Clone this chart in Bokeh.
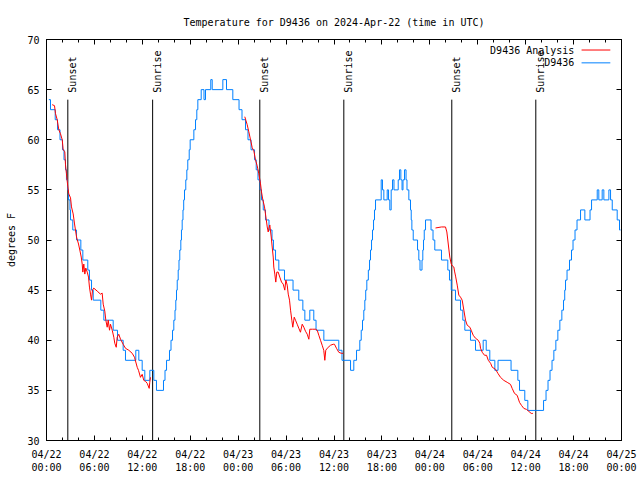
import math
from bokeh.plotting import figure
from bokeh.models import Range1d, LinearAxis, FixedTicker, ColumnDataSource, Title
from bokeh.embed import file_html
from bokeh.resources import INLINE
from bokeh.core.properties import value

# ---------------- data ----------------
TITLE = "Temperature for D9436 on 2024-Apr-22 (time in UTC)"
Y_LABEL = "degrees F"
OBS_NAME = "D9436"
ANA_NAME = "D9436 Analysis"

# hours since 2024-04-22 00:00 UTC
x_ticks = [0, 6, 12, 18, 24, 30, 36, 42, 48, 54, 60, 66, 72]
x_tick_labels = ["04/22\n00:00", "04/22\n06:00", "04/22\n12:00", "04/22\n18:00",
                 "04/23\n00:00", "04/23\n06:00", "04/23\n12:00", "04/23\n18:00",
                 "04/24\n00:00", "04/24\n06:00", "04/24\n12:00", "04/24\n18:00",
                 "04/25\n00:00"]
x_minor = list(range(0, 73, 2))
y_ticks = [30, 35, 40, 45, 50, 55, 60, 65, 70]

sun_hours = [2.67, 13.29, 26.71, 37.23, 50.75, 61.27]
sun_labels = ["Sunset", "Sunrise", "Sunset", "Sunrise", "Sunset", "Sunrise"]

# observations (value holds from the given hour until the next one)
obs_hours = [0.29, 0.50, 1.09, 1.38, 1.69, 2.00, 2.19, 2.38, 2.50, 2.63, 2.75, 2.94, 3.01,
             3.29, 3.76, 4.30, 4.55, 5.17, 5.38, 5.64, 5.85, 6.80, 7.18, 8.35, 8.89, 9.60,
             9.89, 11.18, 11.56, 11.98, 12.31, 12.94, 13.44, 13.77, 14.65, 14.84, 15.03,
             15.40, 15.59, 15.78, 15.94, 16.09, 16.19, 16.28, 16.37, 16.49, 16.59, 16.69,
             16.82, 16.90, 16.99, 17.09, 17.18, 17.28, 17.44, 17.57, 17.69, 17.87, 17.99,
             18.45, 18.66, 18.82, 18.95, 19.37, 19.72, 19.91, 20.57, 20.75, 22.08, 22.54,
             23.33, 24.11, 24.48, 24.92, 25.23, 25.61, 26.05, 26.26, 26.48, 26.74, 26.92,
             27.14, 27.42, 27.86, 28.24, 28.42, 28.68, 29.09, 29.80, 30.87, 31.59, 32.10,
             32.35, 32.97, 33.47, 33.75, 34.73, 36.60, 37.00, 38.07, 38.48, 38.82, 39.23,
             39.41, 39.57, 39.73, 39.86, 39.97, 40.11, 40.30, 40.45, 40.57, 40.70, 40.82,
             40.95, 41.07, 41.20, 41.91, 42.07, 42.24, 42.66, 42.83, 42.99, 43.16, 43.33,
             43.51, 44.04, 44.20, 44.37, 44.52, 44.64, 44.83, 45.02, 45.14, 45.37, 45.58,
             45.67, 45.75, 45.92, 46.46, 46.62, 46.77, 47.02, 47.12, 47.21, 47.30, 47.46,
             48.15, 48.40, 48.62, 49.46, 50.25, 50.46, 50.68, 51.21, 51.84, 52.13, 52.38,
             53.09, 53.72, 54.68, 55.06, 55.51, 56.14, 56.54, 58.17, 59.02, 59.23, 59.89,
             60.27, 62.24, 62.55, 62.80, 63.05, 63.30, 63.53, 63.78, 64.03, 64.28, 64.53,
             64.74, 64.89, 64.99, 65.18, 65.49, 65.74, 65.93, 66.18, 66.43, 66.87, 67.41,
             68.06, 68.25, 68.96, 69.16, 69.58, 69.79, 70.42, 70.63, 70.84, 71.46, 71.75,
             71.88]
obs_temp = [64, 63, 62, 61, 60, 59, 58, 57, 56, 55, 54, 53, 52,
            51, 50, 49, 48, 47, 46, 45, 44, 43, 42, 41, 40, 39,
            38, 39, 38, 37, 36, 37, 36, 35, 36, 37, 38,
            39, 40, 41, 42, 43, 44, 45, 46, 47, 48, 49,
            50, 51, 52, 53, 54, 55, 56, 57, 58, 59, 60,
            61, 62, 63, 64, 65, 64, 65, 66, 65, 66, 65,
            64, 63, 62, 61, 60, 59, 58, 57, 56, 55, 54,
            53, 52, 51, 50, 49, 48, 47, 46, 45, 44, 43,
            42, 43, 42, 41, 40, 39, 38, 37, 38, 39, 40,
            41, 42, 43, 44, 45, 46, 47, 48, 49, 50, 51,
            52, 53, 54, 56, 55, 54, 55, 54, 53, 55, 56,
            55, 56, 57, 56, 55, 56, 57, 56, 55, 54, 53,
            52, 51, 50, 49, 48, 47, 48, 49, 50, 51, 52,
            51, 50, 49, 48, 47, 46, 45, 44, 43, 42, 41,
            40, 39, 40, 39, 38, 37, 38, 37, 36, 35, 34,
            33, 34, 35, 36, 37, 38, 39, 40, 41, 42, 43,
            44, 45, 46, 47, 48, 49, 50, 51, 52, 53, 52,
            53, 54, 55, 54, 55, 54, 55, 54, 53, 52, 51,
            51]

# analysis, three night-time runs
ana1_hours = [0.71, 1.00, 1.13, 1.34, 1.54, 1.75, 1.97, 2.09, 2.29, 2.38, 2.50, 2.67, 2.79,
              3.01, 3.13, 3.34, 3.51, 3.76, 4.01, 4.17, 4.35, 4.47, 4.55, 4.67, 4.80, 4.92,
              5.10, 5.26, 5.38, 5.51, 5.64, 5.76, 5.92, 6.35, 6.76, 6.97, 7.10, 7.30, 7.43,
              7.60, 7.73, 7.89, 8.01, 8.23, 8.43, 8.55, 8.73, 8.85, 9.05, 9.27, 9.60, 9.89,
              10.31, 10.73, 11.02, 11.36, 11.52, 11.77, 11.98, 12.18, 12.40, 12.61, 12.86,
              12.93, 13.02]
ana1_temp = [63.5, 63.4, 62.6, 62.0, 61.0, 60.6, 60.0, 59.0, 58.8, 57.5, 56.6, 55.3, 54.6,
             54.2, 53.3, 52.6, 51.6, 50.3, 49.6, 49.0, 48.3, 47.6, 46.8, 47.6, 46.6, 47.2,
             46.8, 46.3, 45.3, 44.6, 44.0, 45.0, 45.2, 44.9, 44.6, 44.7, 43.6, 42.9, 42.0,
             41.3, 42.0, 41.0, 41.6, 41.0, 40.3, 39.7, 39.3, 40.3, 40.6, 40.1, 39.6, 39.2,
             39.0, 38.7, 38.3, 37.3, 37.0, 36.3, 36.6, 36.0, 35.9, 35.7, 35.2,
             35.8, 36.3]
ana2_hours = [24.83, 24.98, 25.13, 25.33, 25.55, 25.76, 25.96, 26.17, 26.38, 26.59, 26.80,
              26.92, 27.09, 27.30, 27.42, 27.64, 27.76, 27.96, 28.14, 28.26, 28.39, 28.46,
              28.59, 28.71, 28.84, 29.01, 29.21, 29.43, 29.64, 29.84, 29.97, 30.14, 30.27,
              30.43, 30.56, 30.72, 30.84, 31.02, 31.18, 31.39, 31.59, 31.80, 32.02, 32.22,
              32.43, 32.65, 32.85, 32.97, 33.31, 33.68, 33.90, 34.10, 34.31, 34.52, 34.72,
              34.85, 34.97, 35.15, 35.56, 35.90, 36.06, 36.31, 36.60, 36.90, 37.15]
ana2_temp = [62.3, 61.9, 61.5, 60.8, 60.0, 59.2, 58.9, 58.0, 57.4, 56.6, 55.6,
             54.8, 54.0, 53.3, 52.6, 51.3, 50.8, 51.5, 50.3, 49.3, 48.3, 47.3,
             46.6, 45.8, 46.8, 46.8, 46.3, 45.8, 45.6, 45.0, 46.0, 45.5, 44.6,
             44.0, 43.0, 42.0, 41.3, 42.3, 42.0, 41.6, 41.2, 40.8, 41.6, 41.3,
             40.9, 40.6, 40.1, 41.1, 41.1, 41.1, 41.0, 40.5, 40.0, 39.5, 39.0,
             38.0, 39.0, 39.2, 39.5, 39.6, 39.6, 39.2, 38.8, 38.7, 38.7]
ana3_hours = [48.71, 49.46, 49.96, 50.13, 50.25, 50.38, 50.50, 50.68, 50.84, 51.01, 51.09,
              51.22, 51.43, 51.63, 51.84, 52.05, 52.26, 52.47, 52.68, 53.01, 53.18, 53.43,
              53.72, 54.06, 54.26, 54.35, 54.56, 54.85, 55.10, 55.32, 55.61, 55.82, 56.23,
              56.52, 56.85, 57.26, 57.69, 58.10, 58.31, 58.60, 58.94, 59.23, 59.48, 59.77,
              60.11, 60.40, 60.70, 60.90]
ana3_temp = [51.2, 51.3, 51.3, 50.8, 50.0, 49.1, 48.3, 47.6, 47.4, 47.3, 46.9,
             46.4, 45.5, 44.5, 44.3, 44.0, 43.0, 42.0, 41.5, 41.3, 41.0, 40.5,
             40.2, 40.0, 39.7, 39.2, 38.8, 38.5, 38.5, 38.0, 37.7, 37.3, 37.1,
             36.7, 36.3, 36.0, 35.8, 35.6, 35.2, 34.7, 34.5, 33.8, 33.5, 33.2,
             33.1, 32.9, 32.7, 32.7]

# ---------------- styling ----------------
FONT = "DejaVu Sans Mono"
FS = "10px"
RED = "#ff0000"
BLUE = "#0080ff"

p = figure(width=640, height=480, x_range=Range1d(0, 72), y_range=Range1d(30, 70),
           output_backend="svg", toolbar_location=None, title=None,
           min_border_left=46, min_border_right=19, min_border_top=39, min_border_bottom=40,
           x_axis_location=None, y_axis_location=None)
p.background_fill_color = "white"
p.border_fill_color = "white"
p.outline_line_color = "black"
p.outline_line_width = 1
p.xgrid.visible = False
p.ygrid.visible = False

xt = FixedTicker(ticks=x_ticks, minor_ticks=x_minor)
yt = FixedTicker(ticks=y_ticks, minor_ticks=[])

def style(ax):
    ax.axis_line_color = "black"
    ax.major_tick_line_color = "black"
    ax.minor_tick_line_color = "black"
    ax.major_tick_in = 5
    ax.major_tick_out = 0
    ax.minor_tick_in = 3
    ax.minor_tick_out = 0
    ax.major_label_text_font = FONT
    ax.major_label_text_font_size = FS
    ax.major_label_text_color = "black"

xb = LinearAxis(ticker=xt)
style(xb)
xb.major_label_overrides = {t: lab for t, lab in zip(x_ticks, x_tick_labels)}
xb.major_label_standoff = 8
p.add_layout(xb, "below")
xa = LinearAxis(ticker=xt)
style(xa)
xa.major_label_overrides = {t: "" for t in x_ticks}
xa.major_label_standoff = 0
p.add_layout(xa, "above")

yl = LinearAxis(ticker=yt)
style(yl)
yl.major_label_standoff = 7
yl.axis_label = Y_LABEL
yl.axis_label_text_font = FONT
yl.axis_label_text_font_size = FS
yl.axis_label_text_font_style = "normal"
yl.axis_label_text_color = "black"
yl.axis_label_standoff = 7
p.add_layout(yl, "left")
yr = LinearAxis(ticker=yt)
style(yr)
yr.major_label_overrides = {t: "" for t in y_ticks}
yr.major_label_standoff = 0
p.add_layout(yr, "right")

title = Title(text=TITLE, align="center", text_font=FONT, text_font_size=FS,
              text_font_style="normal", text_color="black", standoff=23)
p.add_layout(title, "above")

# sunrise / sunset markers
sun_src = ColumnDataSource(dict(x=sun_hours, y0=[30] * len(sun_hours),
                                y1=[64] * len(sun_hours), text=sun_labels))
p.segment(x0="x", y0="y0", x1="x", y1="y1", source=sun_src, line_color="black", line_width=1)
p.text(x="x", y="y1", text="text", source=sun_src, angle=math.pi / 2,
       text_align="left", text_baseline="alphabetic", x_offset=5, y_offset=-7,
       text_font=value(FONT), text_font_size=FS, text_color="black")

# data
p.step(obs_hours, obs_temp, mode="after", line_color=BLUE, line_width=1)
for hh, tt in ((ana1_hours, ana1_temp), (ana2_hours, ana2_temp), (ana3_hours, ana3_temp)):
    p.line(hh, tt, line_color=RED, line_width=1)

# key (gnuplot style: text then sample line)
key_x_text = 66.1
key_x0, key_x1 = 67.0, 70.6
for name, color, ky in ((ANA_NAME, RED, 68.95), (OBS_NAME, BLUE, 67.67)):
    p.segment(x0=[key_x0], y0=[ky], x1=[key_x1], y1=[ky], line_color=color, line_width=1)
    p.text(x=[key_x_text], y=[ky], text=[name], text_align="right", text_baseline="middle",
           text_font=value(FONT), text_font_size=FS, text_color="black")

open("out.html", "w").write(file_html(p, INLINE))
